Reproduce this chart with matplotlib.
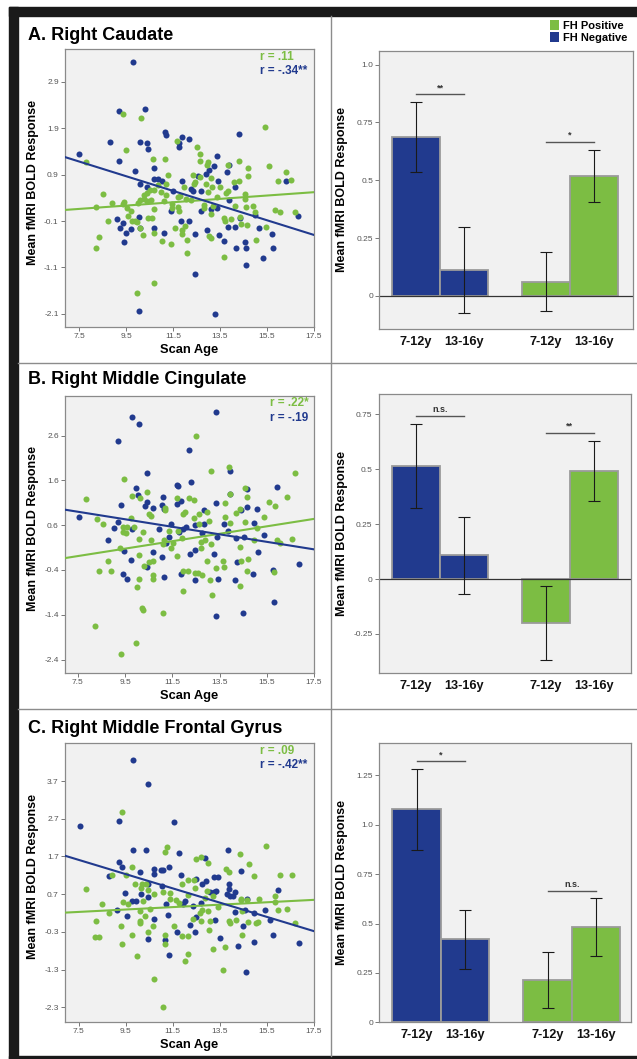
import numpy as np
import matplotlib
matplotlib.use("Agg")
import matplotlib.pyplot as plt
from matplotlib.patches import Rectangle, Patch

plt.rcParams["font.family"] = ["Liberation Sans", "DejaVu Sans"]

BLUE = "#213a8e"
GREEN = "#7cbd43"
W, H = 637, 1059

# ---- scatter data (scan age, mean BOLD) ----
caudate_blue = [
    (7.5, 1.34), (9.2, 1.2), (8.8, 1.59), (9.2, 2.27), (9.8, 3.32), (10.3, 2.3), (10.1, 1.59),
    (10.4, 1.57), (10.45, 1.45), (9.9, 0.97), (10.1, 0.7), (10.4, 0.64), (10.7, 1.03), (10.7, 0.81),
    (10.85, 0.8), (11.05, 0.75), (11.2, 1.76), (11.15, 1.82), (11.75, 1.57), (11.75, 1.5), (11.9, 1.7),
    (12.2, 1.67), (11.9, 0.75), (12.25, 0.58), (12.35, 0.55), (12.55, 0.86), (12.7, 0.55), (12.9, 0.91),
    (13.05, 1.0), (13.25, 1.09), (13.35, 1.29), (13.4, 0.75), (13.8, 0.95), (13.9, 1.11), (14.15, 0.64),
    (13.9, 0.35), (14.3, 1.78), (14.35, -0.04), (14.15, -0.22), (13.85, -0.22), (13.65, -0.52),
    (13.45, -0.4), (13.1, 0.15), (13.35, 0.17), (12.7, 0.11), (12.45, -0.39), (12.2, -0.11),
    (11.85, -0.09), (11.4, 0.12), (11.1, -0.36), (10.7, -0.25), (10.05, -0.01), (10.1, -0.25),
    (9.7, -0.28), (9.5, -0.35), (9.35, -0.15), (9.25, -0.24), (9.4, -0.56), (9.1, -0.06), (11.5, 0.55),
    (12.45, -1.25), (10.05, -2.04), (13.3, -2.09), (14.2, -0.67), (14.55, -0.55), (14.6, -0.69),
    (14.6, -1.05), (15.15, -0.24), (15.0, 0.03), (15.35, -0.9), (15.7, -0.39), (15.75, -0.67),
    (16.3, 0.75), (16.8, 0.01), (12.95, -0.3),
]
caudate_green = [
    (7.8, 1.16), (8.2, 0.21), (8.35, -0.44), (8.2, -0.69), (8.5, 0.49), (8.75, -0.09), (8.9, 0.28),
    (9.35, 0.27), (9.4, 0.3), (9.5, 1.43), (9.35, 2.2), (10.15, 2.11), (9.55, 0.17), (9.6, 0.01),
    (9.7, 0.12), (9.75, -0.09), (9.9, -0.11), (9.95, -0.13), (10.1, -0.24), (10.2, -0.41), (10.0, 0.28),
    (10.1, 0.35), (10.25, 0.38), (10.4, 0.32), (10.55, 0.35), (10.7, 0.16), (10.45, -0.03),
    (10.6, -0.03), (10.7, -0.35), (10.65, 1.24), (10.7, 0.57), (10.5, 0.57), (10.4, 0.5), (10.25, 0.45),
    (10.85, 0.67), (11.15, 1.23), (11.2, 0.7), (11.3, 0.89), (11.2, 0.46), (11.1, 0.34), (11.0, 0.52),
    (11.05, -0.54), (11.4, -0.6), (11.45, 0.19), (11.45, 0.26), (11.7, 0.21), (11.7, 0.42),
    (11.75, 0.12), (11.6, -0.24), (11.9, -0.29), (12.0, -0.21), (11.9, -0.37), (12.1, -0.51),
    (12.1, -0.78), (11.65, 1.62), (11.8, 0.43), (11.95, 0.64), (12.05, 0.37), (12.25, 0.35),
    (12.35, 0.89), (12.45, 0.74), (12.4, 0.69), (12.5, 1.49), (12.65, 1.35), (12.65, 1.19),
    (12.65, 0.84), (12.8, 0.25), (12.8, 0.17), (12.9, 0.69), (12.95, 1.11), (13.0, 1.16), (13.0, 0.53),
    (13.1, 0.82), (13.15, 0.64), (13.1, -0.46), (13.05, -0.42), (13.1, 0.04), (13.2, 0.23),
    (13.35, 0.42), (13.5, 0.64), (13.65, -0.04), (13.7, -0.09), (13.65, -0.87), (13.75, 0.5),
    (13.85, 0.55), (13.85, 1.11), (13.95, -0.05), (14.1, 0.73), (14.15, 0.22), (14.3, 1.19),
    (14.3, 0.76), (14.35, -0.01), (14.4, -0.17), (14.55, 0.48), (14.55, 0.37), (14.6, 0.2),
    (14.65, -0.18), (14.7, 0.86), (14.7, 1.05), (14.9, 0.23), (15.0, 0.09), (15.05, -0.51),
    (15.4, 1.92), (15.6, 1.08), (15.45, -0.22), (15.85, 0.13), (15.95, 0.76), (16.05, 0.09),
    (16.3, 0.96), (16.5, 0.78), (16.7, 0.09), (10.7, -1.43), (9.95, -1.64),
]

cingulate_blue = [
    (7.55, 0.79), (9.2, 2.47), (9.8, 3.02), (10.1, 2.85), (9.35, 1.05), (9.2, 0.68), (9.05, 0.53),
    (8.8, 0.26), (9.45, 0.03), (9.75, -0.17), (9.4, -0.5), (9.6, -0.61), (9.95, 1.43), (10.05, 1.27),
    (10.45, 1.77), (10.35, 1.03), (10.45, 1.11), (10.7, 0.99), (11.05, 1.05), (11.1, 1.23),
    (11.15, 0.97), (10.95, 0.51), (10.7, -0.01), (10.45, -0.34), (11.05, -0.11), (11.15, -0.55),
    (11.25, 0.21), (11.35, 0.33), (11.45, 0.63), (11.7, 1.08), (11.85, 1.13), (11.7, 1.49),
    (11.75, 1.47), (12.2, 2.28), (12.3, 1.56), (11.8, 0.44), (11.95, 0.52), (12.1, 0.55),
    (12.25, -0.04), (12.45, 0.05), (12.45, 0.61), (12.75, 0.42), (12.85, 0.94), (12.85, 0.63),
    (13.35, 1.09), (13.35, 3.13), (13.4, 0.33), (13.25, -0.05), (13.45, -0.61), (13.35, -1.43),
    (12.45, -0.62), (11.85, -0.49), (13.7, 0.62), (13.85, 0.46), (13.95, 1.82), (13.95, 1.29),
    (14.2, 0.32), (14.25, -0.22), (14.4, 0.94), (14.65, 1.01), (14.65, 1.4), (14.55, 0.33),
    (14.9, -0.48), (14.95, 0.65), (15.1, 0.97), (15.15, 0.0), (14.5, -1.35), (14.15, -0.62),
    (15.4, 0.39), (15.95, 1.46), (15.8, -1.11), (15.75, -0.41), (16.85, -0.27), (9.8, 0.52),
]
cingulate_green = [
    (7.85, 1.18), (8.3, 0.74), (8.55, 0.62), (8.8, -0.19), (8.9, -0.42), (8.4, -0.42), (8.25, -1.66),
    (9.3, 0.1), (9.4, 0.57), (9.4, 0.44), (9.45, 1.63), (9.55, 0.42), (9.6, 0.57), (9.75, 0.76),
    (9.8, 1.26), (9.9, 0.56), (10.0, -0.78), (10.1, 0.29), (10.1, -0.61), (10.1, -0.07), (10.2, -1.24),
    (10.25, -1.29), (9.95, -2.02), (9.35, -2.28), (10.15, 1.21), (10.25, 0.45), (10.3, -0.31),
    (10.45, 1.34), (10.5, 0.86), (10.6, 0.8), (10.6, 0.26), (10.5, -0.23), (10.7, -0.19), (10.7, -0.52),
    (10.7, -0.61), (11.2, 0.98), (11.2, 0.94), (11.1, 0.19), (11.15, 0.27), (11.1, -1.37),
    (11.35, 0.48), (11.45, 0.09), (11.55, 0.2), (11.7, -0.08), (11.7, 1.2), (11.75, 0.48),
    (11.9, 0.31), (11.95, 0.86), (12.05, 0.9), (11.95, -0.42), (12.15, -0.42), (11.95, -0.88),
    (12.2, 1.2), (12.4, 1.17), (12.4, 0.77), (12.5, 2.59), (12.65, 0.86), (12.65, 0.62), (12.7, 0.22),
    (12.7, 0.1), (12.9, 0.26), (12.95, 0.89), (13.05, 0.69), (13.15, 0.17), (12.95, -0.19),
    (12.75, -0.52), (12.45, -0.46), (12.6, -0.47), (13.1, -0.62), (13.2, -0.96), (13.15, 1.8),
    (13.35, -0.35), (13.65, -0.19), (13.7, -0.34), (13.75, 0.79), (13.75, 1.09), (13.9, 1.9),
    (13.95, 1.29), (13.95, 0.64), (14.2, 0.87), (14.35, 0.96), (14.35, 0.12), (14.4, -0.2),
    (14.35, -0.75), (14.6, 1.44), (14.6, 0.68), (14.65, 1.23), (14.7, -0.16), (14.65, -0.43),
    (14.95, 0.26), (15.1, 0.53), (15.4, 0.79), (15.6, 1.12), (15.85, 1.02), (15.8, -0.44),
    (15.95, 0.26), (16.05, 0.2), (16.35, 1.23), (16.55, 0.29), (16.7, 1.77),
]

frontal_blue = [
    (7.55, 2.51), (9.2, 2.64), (9.8, 4.26), (10.45, 3.62), (11.55, 2.62), (9.8, 1.86), (10.35, 1.86),
    (9.2, 1.56), (9.35, 1.42), (8.8, 1.17), (9.15, 0.29), (9.55, 0.13), (9.45, 0.73), (9.75, 0.52),
    (9.95, 0.52), (10.1, 1.29), (10.15, 0.71), (10.45, 0.98), (10.45, 0.62), (10.7, 1.37),
    (10.7, 1.24), (11.0, 1.33), (11.1, 1.33), (11.35, 1.43), (11.05, 0.93), (11.2, 0.45), (11.3, 0.15),
    (11.35, -0.92), (11.15, -0.51), (10.7, 0.03), (10.45, -0.48), (11.75, 1.78), (11.85, 1.21),
    (11.7, -0.31), (11.95, 0.43), (12.0, 0.51), (12.25, -0.12), (12.35, 0.39), (12.45, -0.31),
    (12.5, 1.11), (12.5, 0.1), (12.7, 0.46), (12.75, 0.96), (12.9, 1.06), (12.85, 1.65), (13.1, 0.77),
    (13.25, 0.76), (13.25, 1.16), (13.4, 1.16), (13.3, 0.02), (13.35, 0.79), (13.5, -0.46),
    (13.85, 1.86), (13.9, 0.96), (13.9, 0.83), (13.8, 0.7), (13.95, 0.66), (14.05, 0.66), (14.15, 0.77),
    (14.15, 0.22), (14.25, -0.67), (14.4, 1.31), (14.5, -0.15), (14.65, 0.57), (14.6, -1.37),
    (14.55, 0.27), (14.95, -0.57), (14.95, 0.21), (15.4, 0.28), (15.65, 0.02), (15.75, -0.38),
    (15.95, 0.8), (16.85, -0.59),
]
frontal_green = [
    (7.8, 0.85), (8.5, 0.43), (8.25, 0.0), (8.2, -0.44), (8.35, -0.44), (8.8, 0.21), (8.9, 1.2),
    (9.35, 2.89), (9.3, -0.15), (9.35, -0.62), (9.4, 0.5), (9.5, 1.2), (9.6, 0.45), (9.75, -0.39),
    (9.75, 1.42), (9.9, 0.98), (10.0, -0.94), (10.1, 0.26), (10.1, 0.0), (10.1, -0.07), (10.15, 0.87),
    (10.2, 0.96), (10.35, 0.96), (10.45, 0.8), (10.25, 0.52), (10.3, 0.13), (10.45, -0.3),
    (10.55, 0.31), (10.65, -0.13), (10.7, 0.7), (10.7, -1.55), (11.1, -2.28), (11.15, 1.82),
    (11.25, 1.96), (11.1, 0.75), (11.15, -0.39), (11.15, -0.63), (11.4, 0.72), (11.4, 0.58),
    (11.55, -0.13), (11.65, 0.54), (11.75, 0.46), (11.9, -0.4), (11.9, 0.97), (12.0, -1.06),
    (12.15, -0.89), (12.15, -0.4), (12.15, 1.08), (12.15, 0.69), (12.35, 0.04), (12.4, 1.08),
    (12.45, 0.86), (12.5, 1.64), (12.65, 0.2), (12.7, -0.02), (12.7, 1.69), (12.75, 0.29),
    (12.85, 0.61), (12.95, 0.78), (13.0, 0.26), (13.0, 1.54), (13.05, -0.26), (13.1, 0.0),
    (13.2, -0.74), (13.2, 0.64), (13.4, 0.37), (13.65, -1.31), (13.7, -0.7), (13.75, 1.36),
    (13.9, 1.3), (13.9, -0.01), (13.95, -0.07), (14.2, 0.02), (14.35, 1.76), (14.4, 0.55),
    (14.4, 0.57), (14.45, 0.26), (14.45, -0.37), (14.65, 0.54), (14.7, -0.04), (14.75, 1.51),
    (14.95, 1.17), (15.05, -0.06), (15.1, -0.03), (15.15, 0.57), (15.45, 1.99), (15.85, 0.66),
    (15.85, 0.48), (15.95, 0.28), (16.05, 1.2), (16.35, 0.31), (16.55, 1.22), (16.7, -0.06),
]

# regression lines: fitted value at age 7.5 and at age 17.5
caudate_fit_green = (0.16, 0.52)
caudate_fit_blue = (1.18, -0.40)
cingulate_fit_green = (-0.09, 0.74)
cingulate_fit_blue = (0.90, 0.06)
frontal_fit_green = (0.23, 0.55)
frontal_fit_blue = (1.61, -0.28)

r_caudate = ("r = .11", "r = -.34**")
r_cingulate = ("r = .22*", "r = -.19")
r_frontal = ("r = .09", "r = -.42**")

# ---- bar data: FH- 7-12y, FH- 13-16y, FH+ 7-12y, FH+ 13-16y ----
age_labels = ["7-12y", "13-16y", "7-12y", "13-16y"]
caudate_means = [0.687, 0.112, 0.062, 0.519]
caudate_errs = [0.151, 0.186, 0.127, 0.112]
cingulate_means = [0.515, 0.108, -0.2, 0.492]
cingulate_errs = [0.19, 0.175, 0.168, 0.138]
frontal_means = [1.079, 0.42, 0.215, 0.483]
frontal_errs = [0.205, 0.15, 0.143, 0.145]

caudate_sig = [(0.871, "**"), (0.665, "*")]
cingulate_sig = [(0.742, "n.s."), (0.664, "**")]
frontal_sig = [(1.32, "*"), (0.666, "n.s.")]

GROUP_GAP = 2.71


def box(l, t, r, b):
    return [l / W, 1 - b / H, (r - l) / W, (b - t) / H]


def style_axes(ax):
    ax.set_facecolor("#f1f1f1")
    for s in ax.spines.values():
        s.set_color("#8a8a8a")
        s.set_linewidth(0.9)
    ax.tick_params(labelsize=6, labelcolor="#555555", color="#777777", length=3, width=0.7, pad=1.5)


def scatter_panel(ax, green_pts, blue_pts, fit_g, fit_b, r_txt, xlim, ylim, yticks, r_x):
    style_axes(ax)
    g = np.array(green_pts)
    b = np.array(blue_pts)
    ax.scatter(b[:, 0], b[:, 1], s=19, color=BLUE, linewidths=0, zorder=3)
    ax.scatter(g[:, 0], g[:, 1], s=19, color=GREEN, linewidths=0, zorder=3)
    xs = np.array(xlim)
    for fit, col in [(fit_g, GREEN), (fit_b, BLUE)]:
        slope = (fit[1] - fit[0]) / 10.0
        ax.plot(xs, fit[0] + slope * (xs - 7.5), color=col, lw=1.5, zorder=4)
    ax.set_xlim(xlim)
    ax.set_ylim(ylim)
    ax.set_xticks(np.arange(7.5, 17.6, 2))
    ax.set_xticklabels([f"{v:.1f}" for v in np.arange(7.5, 17.6, 2)])
    ax.set_yticks(yticks)
    ax.set_yticklabels([f"{v:.1f}" for v in yticks])
    ax.text(r_x, 0.972, r_txt[0], transform=ax.transAxes, color=GREEN, fontsize=8.5,
            fontweight="bold", va="center", ha="left")
    ax.text(r_x, 0.921, r_txt[1], transform=ax.transAxes, color=BLUE, fontsize=8.5,
            fontweight="bold", va="center", ha="left")
    ax.set_ylabel("Mean fMRI BOLD Response", fontsize=9, fontweight="bold")
    ax.yaxis.set_label_coords(-0.105, 0.52)
    ax.set_xlabel("Scan Age", fontsize=9.3, fontweight="bold", va="top")
    ax.xaxis.set_label_coords(0.5, -0.062)


def bar_panel(ax, means, errs, sig, ylim, yticks, yticklabels, xlim, zero_line=True):
    style_axes(ax)
    x = np.concatenate([np.arange(2), np.arange(2) + GROUP_GAP])
    colors = [BLUE, BLUE, GREEN, GREEN]
    ax.bar(x, means, width=1.0, color=colors, edgecolor="#9b9b9b", linewidth=1.3, zorder=2)
    ax.errorbar(x, means, yerr=errs, fmt="none", ecolor="#1a1a1a", elinewidth=0.8,
                capsize=4, capthick=0.8, zorder=3)
    if zero_line:
        ax.axhline(0, color="#333333", lw=0.9, zorder=2.5)
    for (h, lab), (i, j) in zip(sig, [(0, 1), (2, 3)]):
        ax.plot([x[i], x[j]], [h, h], color="#555555", lw=1.0, zorder=3)
        ax.annotate(lab, ((x[i] + x[j]) / 2, h), xytext=(0, 1.5), textcoords="offset points",
                    ha="center", va="bottom", fontsize=6.5, fontweight="bold", color="#333333")
    ax.set_xlim(xlim)
    ax.set_ylim(ylim)
    ax.set_xticks(x)
    ax.set_xticklabels(age_labels, fontsize=9.2, fontweight="bold", color="#111111")
    ax.tick_params(axis="x", length=0, pad=5, labelcolor="#111111", labelsize=9.2)
    ax.set_yticks(yticks)
    ax.set_yticklabels(yticklabels)
    ax.set_ylabel("Mean fMRI BOLD Response", fontsize=9, fontweight="bold")
    ax.yaxis.set_label_coords(-0.123, 0.5)


fig = plt.figure(figsize=(W / 100, H / 100), dpi=100)

# frame and panel separators
fig.patches.append(Rectangle((9 / W, 1 - 16 / H), 1, 9 / H, transform=fig.transFigure,
                             color="#1a1a1a", zorder=0))
fig.patches.append(Rectangle((9 / W, 0), 9 / W, 1 - 7 / H, transform=fig.transFigure,
                             color="#1a1a1a", zorder=0))
fig.patches.append(Rectangle((9 / W, 0), 1, 3 / H, transform=fig.transFigure,
                             color="#1a1a1a", zorder=0))
for yy in (362.7, 708.7):
    fig.add_artist(plt.Line2D([18 / W, 1], [1 - yy / H] * 2, transform=fig.transFigure,
                              color="#8c8c8c", lw=1.0))
fig.add_artist(plt.Line2D([330.7 / W] * 2, [3 / H, 1 - 16 / H], transform=fig.transFigure,
                          color="#8c8c8c", lw=1.0))

titles = [("A. Right Caudate", 35), ("B. Right Middle Cingulate", 380),
          ("C. Right Middle Frontal Gyrus", 728.5)]
for t, yy in titles:
    fig.text(28 / W, 1 - yy / H, t, fontsize=13, fontweight="bold", va="center", ha="left")

ax1 = fig.add_axes(box(65, 49, 314, 327))
scatter_panel(ax1, caudate_green, caudate_blue, caudate_fit_green, caudate_fit_blue, r_caudate,
              (6.9, 17.5), (-2.38, 3.6), [-2.1, -1.1, -0.1, 0.9, 1.9, 2.9], 0.783)
ax3 = fig.add_axes(box(65, 395.7, 314, 673))
scatter_panel(ax3, cingulate_green, cingulate_blue, cingulate_fit_green, cingulate_fit_blue,
              r_cingulate, (6.96, 17.5), (-2.70, 3.49), [-2.4, -1.4, -0.4, 0.6, 1.6, 2.6], 0.823)
ax5 = fig.add_axes(box(65, 743.3, 314, 1021.7))
scatter_panel(ax5, frontal_green, frontal_blue, frontal_fit_green, frontal_fit_blue, r_frontal,
              (6.92, 17.5), (-2.68, 4.7), [-2.3, -1.3, -0.3, 0.7, 1.7, 2.7, 3.7], 0.783)

ax2 = fig.add_axes(box(379.3, 50.7, 633.3, 329.3))
bar_panel(ax2, caudate_means, caudate_errs, caudate_sig, (-0.144, 1.06),
          [0, 0.25, 0.5, 0.75, 1.0], ["0", "0.25", "0.5", "0.75", "1.0"], (-0.77, 4.54))
ax4 = fig.add_axes(box(378.7, 394, 630.7, 673.3))
bar_panel(ax4, cingulate_means, cingulate_errs, cingulate_sig, (-0.429, 0.842),
          [-0.25, 0, 0.25, 0.5, 0.75], ["-0.25", "0", "0.25", "0.5", "0.75"], (-0.77, 4.48))
ax6 = fig.add_axes(box(379.3, 742.7, 630.7, 1022.3))
bar_panel(ax6, frontal_means, frontal_errs, frontal_sig, (0, 1.415),
          [0, 0.25, 0.5, 0.75, 1.0, 1.25], ["0", "0.25", "0.5", "0.75", "1.0", "1.25"],
          (-0.77, 4.43), zero_line=False)

handles = [Patch(facecolor=GREEN, edgecolor="none"), Patch(facecolor=BLUE, edgecolor="none")]
ax2.legend(handles, ["FH Positive", "FH Negative"], loc="upper left",
           bbox_to_anchor=(550 / W, 1 - 20.5 / H), bbox_transform=fig.transFigure, frameon=False,
           handlelength=0.85, handleheight=0.95, handletextpad=0.35, labelspacing=0.12,
           borderpad=0, borderaxespad=0, prop={"size": 8, "weight": "bold"})

fig.savefig("out.png", dpi=100)
